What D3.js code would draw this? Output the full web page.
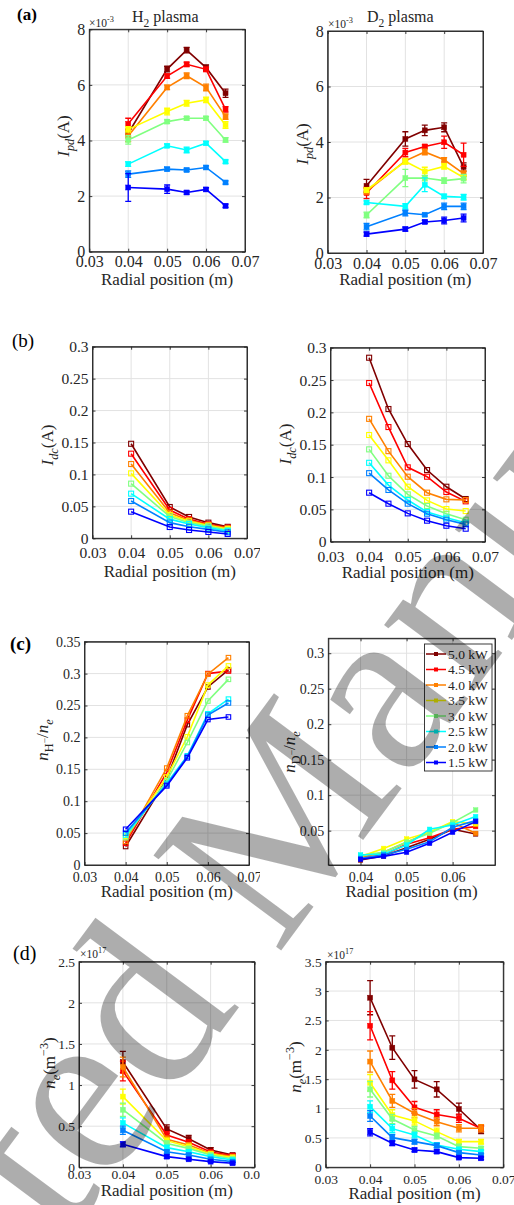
<!DOCTYPE html>
<html>
<head>
<meta charset="utf-8">
<script src="https://cdn.jsdelivr.net/npm/d3@7"></script>
<style>
  body { margin: 0; background: #fff; }
  svg text { font-family: "Liberation Serif", "Times New Roman", Times, serif !important; fill: #262626; white-space: pre; }
  svg text.wm { fill: #000; fill-opacity: 0.32; }
</style>
</head>
<body>
<svg id="fig" width="514" height="1205"></svg>
<script>
// series order: 5.0 kW ... 1.5 kW (jet colours, dark red to blue)
const powers = ["5.0 kW", "4.5 kW", "4.0 kW", "3.5 kW", "3.0 kW", "2.5 kW", "2.0 kW", "1.5 kW"];
const colors = ["#800000", "#ff0000", "#ff8000", "#ffff00", "#80ff80", "#00ffff", "#0080ff", "#0000ff"];

const xH = [0.04, 0.05, 0.055, 0.06, 0.065];
const xD = [0.04, 0.045, 0.05, 0.055, 0.06, 0.065];

// (a) I_pd, units of 1e-3 A
const ipdH = [
  [4.26, 6.57, 7.25, 6.62, 5.70],
  [4.60, 6.32, 6.74, 6.56, 5.12],
  [4.16, 5.91, 6.33, 5.91, 4.86],
  [4.40, 5.04, 5.34, 5.46, 4.56],
  [4.02, 4.68, 4.80, 4.80, 4.02],
  [3.15, 3.81, 3.66, 3.90, 3.24],
  [2.79, 2.97, 2.94, 3.03, 2.49],
  [2.31, 2.25, 2.13, 2.24, 1.65]
];
const ipdHerr = [
  [0.15, 0.10, 0.10, 0.10, 0.15],
  [0.20, 0.08, 0.08, 0.08, 0.10],
  [0.20, 0.08, 0.10, 0.12, 0.10],
  [0.10, 0.12, 0.10, 0.10, 0.12],
  [0.15, 0.06, 0.06, 0.06, 0.08],
  [0.08, 0.06, 0.10, 0.06, 0.06],
  [0.12, 0.06, 0.06, 0.06, 0.06],
  [0.50, 0.15, 0.06, 0.06, 0.06]
];
const ipdD = [
  [2.42, 4.11, 4.42, 4.53, 3.10],
  [2.16, 3.62, 3.84, 3.99, 3.54],
  [2.22, 3.32, 3.64, 3.36, 2.86],
  [2.27, 3.30, 2.94, 3.12, 2.72],
  [1.37, 2.70, 2.70, 2.61, 2.68],
  [1.82, 1.68, 2.46, 2.04, 2.01],
  [0.95, 1.44, 1.38, 1.68, 1.68],
  [0.68, 0.86, 1.12, 1.17, 1.26]
];
const ipdDerr = [
  [0.23, 0.26, 0.19, 0.16, 0.15],
  [0.20, 0.15, 0.06, 0.22, 0.42],
  [0.10, 0.10, 0.10, 0.08, 0.10],
  [0.08, 0.10, 0.15, 0.10, 0.08],
  [0.10, 0.31, 0.10, 0.10, 0.15],
  [0.06, 0.10, 0.25, 0.08, 0.10],
  [0.12, 0.10, 0.05, 0.12, 0.12],
  [0.07, 0.07, 0.06, 0.12, 0.14]
];

// (b) I_dc (A)
const idcH = [
  [0.148, 0.049, 0.0334, 0.0245, 0.018],
  [0.1325, 0.0443, 0.030, 0.022, 0.0167],
  [0.1163, 0.040, 0.028, 0.021, 0.0157],
  [0.1017, 0.0365, 0.0266, 0.020, 0.0146],
  [0.0856, 0.034, 0.0245, 0.0188, 0.013],
  [0.0699, 0.030, 0.0224, 0.0167, 0.0115],
  [0.0584, 0.0245, 0.018, 0.014, 0.0094],
  [0.0417, 0.0177, 0.013, 0.0099, 0.0068]
];
const idcD = [
  [0.2845, 0.2052, 0.151, 0.1108, 0.085, 0.066],
  [0.2454, 0.1773, 0.115, 0.1005, 0.0768, 0.0624],
  [0.190, 0.140, 0.1005, 0.0758, 0.0655, 0.0644],
  [0.165, 0.1258, 0.085, 0.0639, 0.0505, 0.0474],
  [0.1428, 0.102, 0.0732, 0.0552, 0.0433, 0.034],
  [0.122, 0.0876, 0.0644, 0.0459, 0.0371, 0.0294],
  [0.106, 0.080, 0.0588, 0.0433, 0.034, 0.0268],
  [0.0758, 0.0588, 0.0438, 0.0325, 0.0247, 0.0201]
];

// (c) negative ion ratio
const ratioH = [
  [0.029, 0.135, 0.220, 0.279, 0.306],
  [0.034, 0.145, 0.227, 0.300, 0.304],
  [0.037, 0.152, 0.234, 0.299, 0.325],
  [0.045, 0.138, 0.201, 0.282, 0.312],
  [0.043, 0.132, 0.192, 0.257, 0.291],
  [0.047, 0.128, 0.171, 0.237, 0.260],
  [0.050, 0.126, 0.170, 0.235, 0.254],
  [0.056, 0.124, 0.168, 0.228, 0.232]
];
const ratioD = [
  [0.0086, 0.0143, 0.026, 0.038, 0.052, 0.0453],
  [0.011, 0.0157, 0.0308, 0.0401, 0.0519, 0.0557],
  [0.012, 0.0195, 0.0336, 0.0477, 0.0613, 0.0462],
  [0.0134, 0.025, 0.0383, 0.0477, 0.0627, 0.0594],
  [0.0152, 0.0195, 0.034, 0.0462, 0.0613, 0.0791],
  [0.0157, 0.0171, 0.0298, 0.0519, 0.058, 0.0698],
  [0.011, 0.0157, 0.0237, 0.0345, 0.0547, 0.0641],
  [0.0096, 0.0138, 0.0195, 0.0321, 0.0477, 0.0627]
];

// (d) n_e, units of 1e17 m^-3
const neH = [
  [1.28, 0.466, 0.348, 0.21, 0.15],
  [1.17, 0.393, 0.304, 0.186, 0.142],
  [1.22, 0.34, 0.27, 0.17, 0.13],
  [0.86, 0.324, 0.25, 0.162, 0.12],
  [0.70, 0.29, 0.23, 0.15, 0.105],
  [0.54, 0.239, 0.19, 0.13, 0.089],
  [0.45, 0.19, 0.15, 0.097, 0.069],
  [0.28, 0.13, 0.097, 0.069, 0.049]
];
const neHerr = [
  [0.13, 0.05, 0.04, 0.03, 0.02],
  [0.12, 0.04, 0.03, 0.02, 0.02],
  [0.12, 0.04, 0.03, 0.02, 0.02],
  [0.09, 0.03, 0.03, 0.02, 0.01],
  [0.08, 0.03, 0.02, 0.02, 0.01],
  [0.06, 0.03, 0.02, 0.01, 0.01],
  [0.05, 0.02, 0.02, 0.01, 0.01],
  [0.03, 0.02, 0.01, 0.01, 0.01]
];
const neD = [
  [2.887, 2.036, 1.497, 1.327, 0.993, 0.635],
  [2.41, 1.48, 1.02, 0.90, 0.834, 0.66],
  [1.80, 1.13, 0.92, 0.777, 0.664, 0.664],
  [1.44, 0.89, 0.79, 0.607, 0.437, 0.437],
  [1.327, 0.822, 0.635, 0.533, 0.352, 0.323],
  [1.032, 0.658, 0.55, 0.38, 0.306, 0.267],
  [0.873, 0.505, 0.437, 0.369, 0.25, 0.21],
  [0.596, 0.408, 0.295, 0.267, 0.165, 0.153]
];
const neDerr = [
  [0.29, 0.20, 0.15, 0.13, 0.10, 0.06],
  [0.24, 0.15, 0.10, 0.08, 0.07, 0.05],
  [0.18, 0.11, 0.08, 0.07, 0.06, 0.06],
  [0.14, 0.09, 0.07, 0.06, 0.04, 0.04],
  [0.13, 0.08, 0.06, 0.05, 0.04, 0.03],
  [0.10, 0.07, 0.05, 0.04, 0.03, 0.03],
  [0.09, 0.05, 0.04, 0.04, 0.03, 0.02],
  [0.06, 0.04, 0.03, 0.03, 0.02, 0.02]
];

const xTicksFull = [0.03, 0.04, 0.05, 0.06, 0.07];

/* rich text pieces */
const N = (t, it) => ({ t, it, sh: 0, sz: 1 });
const SUB = (t, it) => ({ t, it, sh: 0.3, sz: 0.72 });
const SUP = (t, it) => ({ t, it, sh: -0.42, sz: 0.72 });
const SUBSUP = t => ({ t, it: false, sh: 0.02, sz: 0.55 });

const labIpd = [N("I", 1), SUB("pd", 1), N("(A)")];
const labIdc = [N("I", 1), SUB("dc", 1), N("(A)")];
const labRH = [N("n", 1), SUB("H"), SUBSUP("−"), N("/"), N("n", 1), SUB("e", 1)];
const labRD = [N("n", 1), SUB("D"), SUBSUP("−"), N("/"), N("n", 1), SUB("e", 1)];
const labNe = [N("n", 1), SUB("e", 1), N("(m"), SUP("−3"), N(")")];

const svg = d3.select("#fig");
svg.append("rect").attr("width", 514).attr("height", 1205).attr("fill", "#fff");
// left-hand sub-figures are cropped at x = 260
svg.append("clipPath").attr("id", "leftClip")
  .append("rect").attr("x", 0).attr("y", 0).attr("width", 260).attr("height", 1205);
const leftLayer = svg.append("g").attr("clip-path", "url(#leftClip)");
const rightLayer = svg.append("g");

const fmt = v => String(+v.toFixed(4));

function rich(sel, parts, fs) {
  let prev = 0;
  parts.forEach(p => {
    const sh = p.sh * fs;
    sel.append("tspan")
      .attr("dy", sh - prev)
      .attr("font-size", fs * p.sz)
      .attr("font-style", p.it ? "italic" : "normal")
      .text(p.t);
    prev = sh;
  });
}

function panel(layer, c) {
  const b = c.box;
  const g = layer.append("g");
  const x = d3.scaleLinear().domain(c.xd).range([b[0], b[1]]);
  const y = d3.scaleLinear().domain(c.yd).range([b[3], b[2]]);
  const xt = c.xt || xTicksFull;

  g.append("rect").attr("x", b[0]).attr("y", b[2])
    .attr("width", b[1] - b[0]).attr("height", b[3] - b[2]).attr("fill", "#fff");

  // grid
  g.append("g").selectAll("line").data(xt).join("line")
    .attr("x1", d => x(d)).attr("x2", d => x(d)).attr("y1", b[2]).attr("y2", b[3])
    .attr("stroke", "#e2e2e2").attr("stroke-width", 1);
  g.append("g").selectAll("line").data(c.yt).join("line")
    .attr("y1", d => y(d)).attr("y2", d => y(d)).attr("x1", b[0]).attr("x2", b[1])
    .attr("stroke", "#e2e2e2").attr("stroke-width", 1);

  // axes, ticks inward on all four sides
  const tl = 3;
  const axB = g.append("g").attr("transform", `translate(0,${b[3]})`)
    .call(d3.axisBottom(x).tickValues(xt).tickFormat(fmt).tickSize(-tl).tickSizeOuter(0)
      .tickPadding(c.xb - 0.71 * c.fs));
  const axL = g.append("g").attr("transform", `translate(${b[0]},0)`)
    .call(d3.axisLeft(y).tickValues(c.yt).tickFormat(fmt).tickSize(-tl).tickSizeOuter(0).tickPadding(4));
  g.append("g").attr("transform", `translate(0,${b[2]})`)
    .call(d3.axisTop(x).tickValues(xt).tickFormat("").tickSize(-tl).tickSizeOuter(0));
  g.append("g").attr("transform", `translate(${b[1]},0)`)
    .call(d3.axisRight(y).tickValues(c.yt).tickFormat("").tickSize(-tl).tickSizeOuter(0));
  g.selectAll(".domain, .tick line").attr("stroke", "#262626").attr("stroke-width", 0.9);
  [axB, axL].forEach(a => a.attr("font-family", null).attr("font-size", null)
    .selectAll("text").attr("font-size", c.fs).attr("fill", "#262626"));
  g.append("rect").attr("x", b[0]).attr("y", b[2])
    .attr("width", b[1] - b[0]).attr("height", b[3] - b[2])
    .attr("fill", "none").attr("stroke", "#262626").attr("stroke-width", 0.9);

  // series
  const ms = c.ms || 5;
  c.ys.forEach((vals, si) => {
    const col = colors[si];
    const pts = vals.map((v, i) => [c.x[i], v]);
    const sg = g.append("g");
    sg.append("path").datum(pts)
      .attr("d", d3.line().x(d => x(d[0])).y(d => y(d[1])))
      .attr("fill", "none").attr("stroke", col).attr("stroke-width", 1.6);
    if (c.err) {
      const e = c.err[si];
      sg.selectAll(".eb").data(pts).join("path")
        .attr("d", (d, i) => {
          const px = x(d[0]), y1 = y(d[1] - e[i]), y2 = y(d[1] + e[i]);
          return `M${px},${y1}V${y2}M${px - 3},${y1}H${px + 3}M${px - 3},${y2}H${px + 3}`;
        })
        .attr("fill", "none").attr("stroke", col).attr("stroke-width", 1.3);
    }
    sg.selectAll("rect.m").data(pts).join("rect")
      .attr("x", d => x(d[0]) - ms / 2).attr("y", d => y(d[1]) - ms / 2)
      .attr("width", ms).attr("height", ms)
      .attr("fill", c.hollow ? "none" : col)
      .attr("stroke", col).attr("stroke-width", c.hollow ? 1.1 : 0.5);
  });

  // labels
  g.append("text").attr("x", (b[0] + b[1]) / 2).attr("y", c.xl)
    .attr("text-anchor", "middle").attr("font-size", 17).text("Radial position (m)");
  const yl = g.append("text").attr("text-anchor", "middle").attr("font-size", 17)
    .attr("transform", `translate(${c.yl[0]},${c.yl[1]}) rotate(-90)`);
  rich(yl, c.ylab, 17);
  if (c.exp) {
    const t = g.append("text").attr("x", c.exp[0]).attr("y", c.exp[1]);
    rich(t, [N("×10"), SUP(c.exp[2])], 11.5);
  }
  if (c.title) {
    const t = g.append("text").attr("x", c.title[0]).attr("y", c.title[1]);
    rich(t, [N(c.title[2]), SUB("2"), N(" plasma")], 16);
  }
  if (c.tag) {
    g.append("text").attr("x", c.tag[1]).attr("y", c.tag[2]).attr("font-size", c.tag[3])
      .attr("font-weight", c.tag[4] ? "bold" : "normal").style("fill", "#000").text(c.tag[0]);
  }
  return { x, y };
}

panel(leftLayer, { box: [89.3, 245, 29.3, 251.7], xd: [0.03, 0.07], yd: [0, 8], yt: [0, 2, 4, 6, 8],
  x: xH, ys: ipdH, err: ipdHerr, fs: 16, xb: 15.5, xl: 285, yl: [69, 136], ylab: labIpd,
  exp: [89, 27, "-3"], title: [132, 22, "H"], tag: ["(a)", 17, 20, 17, true] });
panel(rightLayer, { box: [327.7, 483, 31, 253], xd: [0.03, 0.07], yd: [0, 8], yt: [0, 2, 4, 6, 8],
  x: xH, ys: ipdD, err: ipdDerr, fs: 16, xb: 15.5, xl: 285, yl: [308, 144], ylab: labIpd,
  exp: [328, 28, "-3"], title: [367, 22, "D"] });

panel(leftLayer, { box: [92.5, 247, 346.7, 538.3], xd: [0.03, 0.07], yd: [0, 0.3], yt: [0, 0.05, 0.1, 0.15, 0.2, 0.25, 0.3],
  x: xH, ys: idcH, hollow: true, fs: 15.5, xb: 20, xl: 577, yl: [53, 445], ylab: labIdc,
  tag: ["(b)", 12, 347, 19, false] });
panel(rightLayer, { box: [330.5, 485, 347.7, 541.7], xd: [0.03, 0.07], yd: [0, 0.3], yt: [0, 0.05, 0.1, 0.15, 0.2, 0.25, 0.3],
  x: xD, ys: idcD, hollow: true, fs: 15.5, xb: 20, xl: 578, yl: [291, 444], ylab: labIdc });

panel(leftLayer, { box: [84.5, 249, 641.7, 865], xd: [0.03, 0.07], yd: [0, 0.35], yt: [0, 0.05, 0.1, 0.15, 0.2, 0.25, 0.3, 0.35],
  x: xH, ys: ratioH, hollow: true, ms: 4.5, fs: 14, xb: 17, xl: 897, yl: [48, 740], ylab: labRH,
  tag: ["(c)", 10, 650, 19, true] });
panel(rightLayer, { box: [328.3, 495, 638.3, 865], xd: [0.033, 0.0692], yd: [0.0016, 0.321], xt: [0.04, 0.05, 0.06],
  yt: [0.05, 0.1, 0.15, 0.2, 0.25, 0.3],
  x: xD, ys: ratioD, ms: 4.5, fs: 14, xb: 17, xl: 897, yl: [295, 752], ylab: labRD });

panel(leftLayer, { box: [79, 254.5, 961.7, 1167.3], xd: [0.03, 0.07], yd: [0, 2.5], yt: [0, 0.5, 1, 1.5, 2, 2.5],
  x: xH, ys: neH, err: neHerr, fs: 13.5, xb: 12, xl: 1196, yl: [55, 1063], ylab: labNe,
  exp: [80, 958, "17"], tag: ["(d)", 13, 960, 20, false] });
panel(rightLayer, { box: [325.7, 503.3, 961.7, 1167.3], xd: [0.03, 0.07], yd: [0, 3.5], yt: [0, 0.5, 1, 1.5, 2, 2.5, 3, 3.5],
  x: xD, ys: neD, err: neDerr, fs: 13.5, xb: 17, xl: 1199, yl: [301, 1067], ylab: labNe,
  exp: [327, 959, "17"] });

// legend in (c) right
const lg = svg.append("g");
lg.append("rect").attr("x", 424.5).attr("y", 644).attr("width", 67.5).attr("height", 127)
  .attr("fill", "#fff").attr("stroke", "#262626").attr("stroke-width", 0.9);
powers.forEach((p, i) => {
  const yy = 654 + i * 15.5;
  lg.append("line").attr("x1", 426).attr("x2", 446).attr("y1", yy).attr("y2", yy)
    .attr("stroke", colors[i]).attr("stroke-width", 1.5);
  lg.append("rect").attr("x", 434).attr("y", yy - 2).attr("width", 4).attr("height", 4).attr("fill", colors[i]);
  lg.append("text").attr("x", 448).attr("y", yy).attr("dy", "0.35em").attr("font-size", 13.5).text(p);
});

// "Accepted Manuscript" watermark laid over the figure
const wm = svg.append("g").attr("transform", "translate(277,956) rotate(-53.4)").attr("font-size", 243);
wm.append("text").attr("class", "wm").attr("x", -61).attr("text-anchor", "end").text("Accepted");
wm.append("text").attr("class", "wm").attr("x", 0).text("Manuscript");
</script>
</body>
</html>
